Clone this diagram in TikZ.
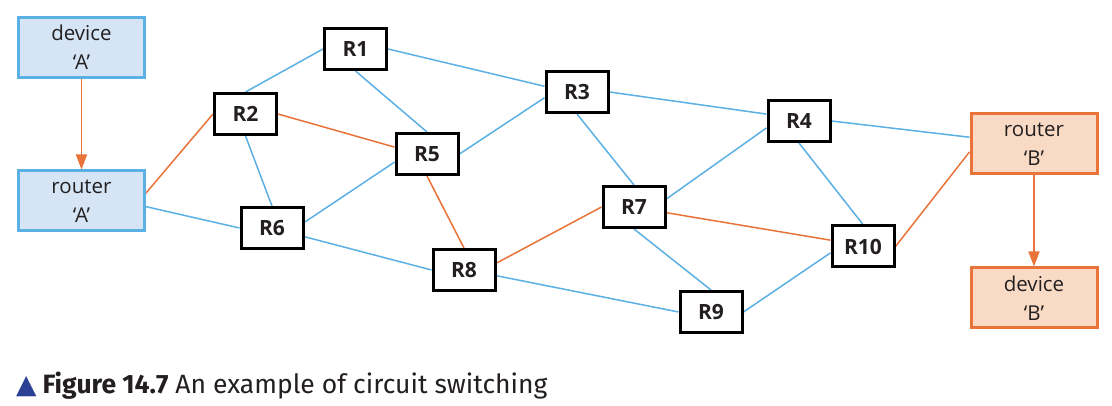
\documentclass[tikz,border=0pt]{standalone}
\usepackage{fontspec}
\setmainfont{Open Sans}
\newfontfamily\capfont{Fira Sans}
\newfontfamily\symfont{DejaVu Sans}
\usetikzlibrary{arrows.meta}
\definecolor{lblue}{HTML}{5BB0E4}
\definecolor{bfill}{HTML}{D5E5F5}
\definecolor{lorange}{HTML}{EA7339}
\definecolor{ofill}{HTML}{F9DBC5}
\definecolor{txt}{HTML}{231F20}
\definecolor{capblue}{HTML}{2B3F94}
\pgfdeclarelayer{bg}
\pgfsetlayers{bg,main}
\begin{document}
\begin{tikzpicture}[x=1pt,y=-1pt,
  router/.style={draw=black, line width=3pt, fill=white, minimum width=62pt, minimum height=41pt, inner sep=0pt, font=\fontsize{21}{24}\selectfont\bfseries, text=txt},
  endbox/.style={line width=3pt, minimum width=126pt, minimum height=60pt, inner sep=0pt, align=center, font=\fontsize{20.5}{29}\selectfont, text=txt},
  bluebox/.style={endbox, draw=lblue, fill=bfill},
  orangebox/.style={endbox, draw=lorange, fill=ofill},
  bl/.style={draw=lblue, line width=1.5pt},
  ol/.style={draw=lorange, line width=1.5pt},
  arr/.style={ol, line width=1.7pt, -{Triangle[length=15pt,width=11pt]}}
]
\useasboundingbox (0,0) rectangle (1112,406);
\begin{pgfonlayer}{bg}
\fill[white] (0,0) rectangle (1112,406);
\end{pgfonlayer}

\node[bluebox] (dA) at (81.5,47.5) {device\\‘A’};
\node[bluebox] (rA) at (81.5,201) {router\\‘A’};
\node[orangebox] (rB) at (1034,144) {router\\‘B’};
\node[orangebox] (dB) at (1034,298) {device\\‘B’};

\node[router] (r1) at (355.5,49) {R1};
\node[router] (r2) at (245.5,114) {R2};
\node[router] (r3) at (577,92) {R3};
\node[router] (r4) at (799,121) {R4};
\node[router] (r5) at (427,154) {R5};
\node[router] (r6) at (272,228) {R6};
\node[router] (r7) at (634,207) {R7};
\node[router] (r8) at (464,270) {R8};
\node[router] (r9) at (711,312) {R9};
\node[router] (r10) at (863,246.5) {R10};

\begin{pgfonlayer}{bg}
\draw[bl] (r2.north) -- (r1.west);
\draw[bl] (r1.south) -- (r5.north);
\draw[bl] (r1.east) -- (r3.170);
\draw[bl] (r5.east) -- (r3.190);
\draw[bl] (r5.194) -- (r6.10);
\draw[bl] (r2.south) -- (r6.north);
\draw[bl] (rA.-5) -- (r6.west);
\draw[bl] (r6.-15) -- (r8.west);
\draw[bl] (r8.-10) -- (r9.west);
\draw[bl] (r7.south) -- (r9.north);
\draw[bl] (r9.east) -- (r10.191);
\draw[bl] (r3.south) -- (r7.north);
\draw[bl] (r3.east) -- (r4.168);
\draw[bl] (r4.192) -- (r7.14);
\draw[bl] (r4.south) -- (r10.north);
\draw[bl] (r4.east) -- (rB.174);

\draw[ol] (rA.7) -- (r2.west);
\draw[ol] (r2.east) -- (r5.168);
\draw[ol] (r5.south) -- (r8.north);
\draw[ol] (r8.12) -- (r7.west);
\draw[ol] (r7.-10) -- (r10.169);
\draw[ol] (r10.east) -- (rB.187);
\end{pgfonlayer}

\draw[arr] (dA.south) -- (rA.north);
\draw[arr] (rB.south) -- (dB.north);

\node[anchor=base west, inner sep=0pt, font=\capfont\fontsize{26.5}{30}\selectfont, text=txt] (cap) at (16,393) {{\symfont\color{capblue}▲}\hspace{6pt}\textbf{Figure 14.7} An example of circuit switching};
\end{tikzpicture}
\end{document}
